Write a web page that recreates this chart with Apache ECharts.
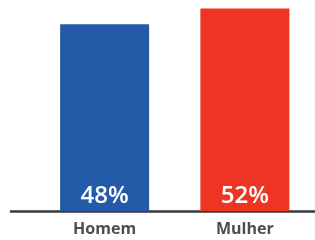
<!DOCTYPE html>
<html><head><meta charset="utf-8">
<script src="https://cdn.jsdelivr.net/npm/echarts@6/dist/echarts.min.js"></script>
<style>html,body{margin:0;padding:0;background:#fff}#c{width:315px;height:240px}</style>
</head><body><div id="c"></div>
<script>
const categories = ['Homem', 'Mulher'];
const values = [48, 52];
const colors = ['#235BA8', '#EE3524'];

const chart = echarts.init(document.getElementById('c'), null, {renderer: 'canvas'});
chart.setOption({
  animation: false,
  grid: [
    {left: 34.5, width: 284, top: 0, bottom: 29},
    {left: 11, right: 0, top: 0, bottom: 29}
  ],
  xAxis: [
    {type: 'category', gridIndex: 0, data: categories,
     axisLine: {show: false}, axisTick: {show: false},
     axisLabel: {color: '#4d4d4d', fontSize: 16, fontWeight: 'bold', fontFamily: 'Open Sans', margin: 10}},
    {type: 'value', gridIndex: 1, min: 0, max: 1, show: true,
     axisLine: {show: true, lineStyle: {color: '#3a3a3a', width: 2.5}},
     axisTick: {show: false}, axisLabel: {show: false}, splitLine: {show: false}}
  ],
  yAxis: [
    {type: 'value', gridIndex: 0, min: 0, max: 54.2, show: false},
    {type: 'value', gridIndex: 1, min: 0, max: 1, show: false}
  ],
  series: [{
    type: 'bar', xAxisIndex: 0, yAxisIndex: 0,
    barWidth: 89,
    data: values.map((v, i) => ({value: v, itemStyle: {color: colors[i]}})),
    label: {show: true, position: 'insideBottom', distance: 3, color: '#fff',
      fontSize: 24, fontWeight: 600, fontFamily: 'Open Sans',
      formatter: p => p.value + '%'}
  }]
});
</script></body></html>
